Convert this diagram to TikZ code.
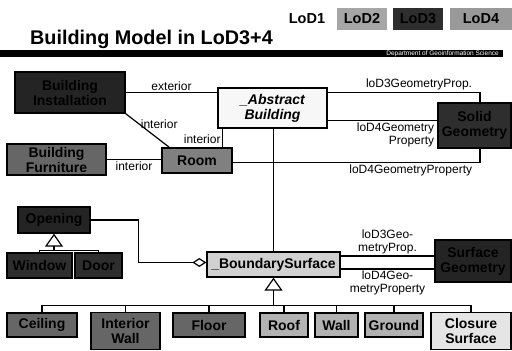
\documentclass[tikz,border=0pt]{standalone}
\usepackage{fontspec}
\setmainfont{Liberation Sans}
\usetikzlibrary{arrows.meta,calc}
\definecolor{darkFill}{gray}{0.18}
\definecolor{darkerFill}{gray}{0.14}
\definecolor{midFill}{gray}{0.40}
\definecolor{roomFill}{gray}{0.50}
\definecolor{softFill}{gray}{0.70}
\definecolor{paleFill}{gray}{0.82}
\definecolor{closureFill}{gray}{0.90}
\definecolor{abstractFill}{gray}{0.97}

\begin{document}
\begin{tikzpicture}[
  x=1pt, y=-1pt,
  font=\fontsize{12}{13}\selectfont,
  class node/.style={
    draw=black,
    line width=1.3pt,
    align=center,
    inner sep=1pt,
    font=\fontsize{14}{15}\selectfont\bfseries
  },
  hidden class/.style={
    class node,
    fill=darkFill,
    text=black
  },
  edge/.style={
    draw=black,
    line width=1.2pt
  },
  generalization/.style={
    edge,
    -{Triangle[open,length=13pt,width=18pt,line width=1.2pt]}
  },
  aggregation/.style={
    edge,
    -{Diamond[open,length=14pt,width=9pt,line width=1.2pt]}
  },
  edge label/.style={
    inner sep=1.5pt,
    font=\fontsize{12}{13}\selectfont
  },
  lod tab/.style={
    inner sep=0pt,
    minimum height=22pt,
    font=\fontsize{14.5}{15}\selectfont\bfseries
  }
]
\useasboundingbox (0,0) rectangle (512,351);

% Heading and level tabs
\node[anchor=base west, inner sep=0pt, font=\fontsize{19.8}{22}\selectfont\bfseries] (heading) at (30,44)
  {Building Model in LoD3+4};
\node[lod tab] (lodOne) at (307,19) {LoD1};
\node[lod tab, fill=black!35, minimum width=50pt] (lodTwo) at (362,19) {LoD2};
\node[lod tab, fill=darkFill, minimum width=50pt] (lodThree) at (418,19) {LoD3};
\node[lod tab, fill=black!40, minimum width=62pt] (lodFour) at (481,19) {LoD4};

\fill[black] (0,50) rectangle (503,57);
\node[anchor=east, text=white, inner sep=0pt, font=\fontsize{6.5}{7}\selectfont] (department) at (499,53.5)
  {Department of Geoinformation Science};

% Building classes
\node[hidden class, fill=darkerFill, minimum width=110pt, minimum height=41pt] (buildingInstallation) at (70,92.5)
  {Building\\Installation};
\node[hidden class, fill=midFill, minimum width=99pt, minimum height=31pt] (buildingFurniture) at (56.5,159.5)
  {Building\\Furniture};
\node[hidden class, fill=roomFill, minimum width=70pt, minimum height=25pt] (room) at (197,160.5) {Room};
\node[class node, fill=abstractFill, minimum width=109pt, minimum height=40pt,
  font=\fontsize{14}{15}\selectfont\bfseries\itshape] (abstractBuilding) at (272.5,108)
  {\_Abstract\\Building};
\node[hidden class, minimum width=73pt, minimum height=45pt] (solidGeometry) at (474.5,125.5)
  {Solid\\Geometry};

% Openings
\node[hidden class, fill=darkerFill, minimum width=72pt, minimum height=26pt] (opening) at (54,220) {Opening};
\node[hidden class, minimum width=65pt, minimum height=25pt] (window) at (39.5,265.5) {Window};
\node[hidden class, minimum width=47pt, minimum height=25pt] (door) at (98.5,265.5) {Door};

% Boundary surfaces
\node[class node, fill=paleFill, minimum width=133pt, minimum height=25pt] (boundarySurface) at (273.5,264.5)
  {\_BoundarySurface};
\node[hidden class, fill=darkerFill, minimum width=76pt, minimum height=42pt] (surfaceGeometry) at (473,261)
  {Surface\\Geometry};

\node[hidden class, fill=midFill, minimum width=70pt, minimum height=24pt] (ceiling) at (42,325) {Ceiling};
\node[hidden class, fill=midFill, minimum width=69pt, minimum height=37pt] (interiorWall) at (125.5,331)
  {Interior\\Wall};
\node[hidden class, fill=midFill, minimum width=72pt, minimum height=24pt] (floor) at (209,325) {Floor};
\node[class node, fill=softFill, minimum width=48pt, minimum height=24pt] (roof) at (284,325) {Roof};
\node[class node, fill=softFill, minimum width=43pt, minimum height=24pt] (wall) at (336.5,325) {Wall};
\node[class node, fill=softFill, minimum width=58pt, minimum height=24pt] (ground) at (394,325) {Ground};
\node[class node, fill=closureFill, minimum width=80pt, minimum height=37pt] (closureSurface) at (471,331)
  {Closure\\Surface};

% Associations of the building
\coordinate (geometryRail) at (480,0);
\draw[edge] (buildingInstallation.east) -- node[edge label, above] {exterior}
  (buildingInstallation.east -| abstractBuilding.west);
\draw[edge] (buildingInstallation.south east) -- node[edge label, pos=0.3, anchor=west] {interior}
  ([xshift=8pt]room.north west);
\draw[edge] ([xshift=-10pt]room.north east) coordinate (roomTop) -- node[edge label, pos=0.45, anchor=east] {interior}
  (roomTop |- abstractBuilding.south);
\draw[edge] (buildingFurniture.east) -- node[edge label, below] {interior}
  (buildingFurniture.east -| room.west);
\draw[edge] ([yshift=-2pt]room.east) -| node[edge label, pos=0.36, below] {loD4GeometryProperty}
  (geometryRail |- solidGeometry.south);
\draw[edge] ([yshift=-5pt]abstractBuilding.north east) -| node[edge label, pos=0.3, above] {loD3GeometryProp.}
  (geometryRail |- solidGeometry.north);
\draw[edge] ([yshift=8pt]abstractBuilding.south east) -- node[edge label, pos=1, below left, align=right, xshift=-1pt]
  {loD4Geometry\\Property} ([yshift=8pt]abstractBuilding.south east -| solidGeometry.west);
\draw[edge] (boundarySurface.north |- abstractBuilding.south) -- (boundarySurface.north);

% Surfaces and their geometry
\draw[edge] ([yshift=8.5pt]boundarySurface.east) -- node[edge label, above, align=center] {loD3Geo-\\metryProp.}
  ([yshift=8.5pt]boundarySurface.east -| surfaceGeometry.west);
\draw[edge] ([yshift=-4.5pt]boundarySurface.east) -- node[edge label, below, align=center] {loD4Geo-\\metryProperty}
  ([yshift=-4.5pt]boundarySurface.east -| surfaceGeometry.west);
\draw[aggregation] (opening.east) -- ++(48,0) |- ([yshift=2pt]boundarySurface.west);

% Generalizations
\coordinate (openingBar) at ($(opening.south)+(0,17)$);
\foreach \part in {window,door}
  \draw[edge] (\part.north) |- (openingBar);
\draw[generalization] (openingBar) -- (opening.south);

\coordinate (surfaceBar) at ($(boundarySurface.south)+(0,28)$);
\foreach \part in {ceiling,interiorWall,floor,roof,wall,ground,closureSurface}
  \draw[edge] (\part.north) |- (surfaceBar);
\draw[generalization] (surfaceBar) -- (boundarySurface.south);

\end{tikzpicture}
\end{document}
